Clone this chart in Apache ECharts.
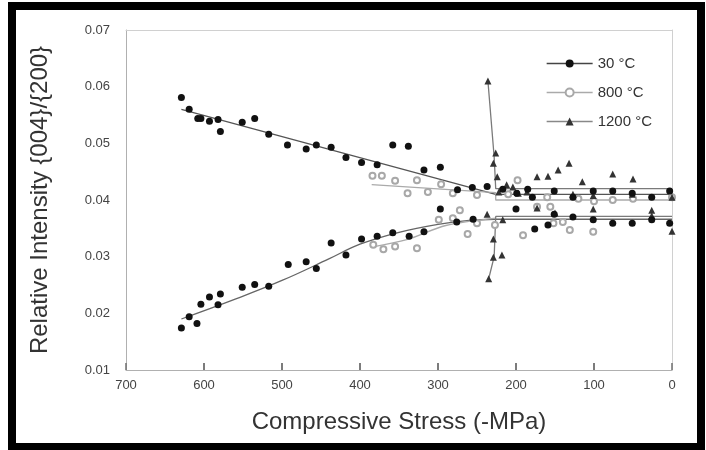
<!DOCTYPE html>
<html>
<head>
<meta charset="utf-8">
<script src="https://cdn.jsdelivr.net/npm/echarts@6/dist/echarts.min.js"></script>
<style>html,body{margin:0;padding:0;background:#fff}#c{width:706px;height:450px}</style>
</head>
<body>
<div id="c"></div>
<script>
// ---- data (x = compressive stress in -MPa, y = relative intensity) ----
const seriesNames = ['30 °C', '800 °C', '1200 °C'];
const xTicks = [0, 100, 200, 300, 400, 500, 600, 700];
const yTicks = [0.01, 0.02, 0.03, 0.04, 0.05, 0.06, 0.07];

const pts30 = [
  [629,0.0581],[619,0.0560],[608,0.0544],[604,0.0544],[593,0.0539],[582,0.0542],[579,0.0521],
  [551,0.0537],[535,0.0544],[517,0.0516],[493,0.0497],[469,0.0490],[456,0.0497],[437,0.0493],
  [418,0.0475],[398,0.0466],[378,0.0462],[358,0.0497],[338,0.0495],[318,0.0453],[297,0.0458],
  [275,0.0418],[256,0.0422],[237,0.0424],[217,0.0419],[199,0.0412],[185,0.0419],[179,0.0405],
  [151,0.0416],[127,0.0405],[101,0.0416],[76,0.0416],[51,0.0412],[26,0.0405],[3,0.0416],
  [629,0.0174],[619,0.0194],[609,0.0182],[604,0.0216],[593,0.0229],[582,0.0215],[579,0.0234],
  [551,0.0246],[535,0.0251],[517,0.0248],[492,0.0286],[469,0.0291],[456,0.0279],[437,0.0324],
  [418,0.0303],[398,0.0331],[378,0.0336],[358,0.0342],[337,0.0336],[318,0.0344],[297,0.0384],
  [276,0.0361],[255,0.0366],[200,0.0384],[176,0.0349],[159,0.0356],[151,0.0375],[127,0.0370],
  [101,0.0365],[76,0.0359],[51,0.0359],[26,0.0365],[3,0.0359]
];
const pts800 = [
  [384,0.0443],[372,0.0443],[355,0.0434],[339,0.0412],[327,0.0435],[313,0.0414],[296,0.0428],
  [281,0.0412],[250,0.0409],[210,0.0410],[198,0.0435],[173,0.0388],[156,0.0388],[160,0.0405],
  [120,0.0402],[100,0.0398],[76,0.0400],[50,0.0402],[0,0.0405],
  [383,0.0321],[370,0.0313],[355,0.0318],[327,0.0315],[299,0.0365],[281,0.0368],[272,0.0382],
  [262,0.0340],[250,0.0359],[227,0.0356],[191,0.0338],[152,0.0359],[140,0.0361],[131,0.0347],
  [101,0.0344]
];
const pts1200 = [
  [236,0.0610],[226,0.0483],[229,0.0465],[224,0.0441],[222,0.0414],[212,0.0427],[204,0.0423],
  [197,0.0412],[186,0.0414],[173,0.0441],[159,0.0442],[146,0.0453],[132,0.0465],[115,0.0432],
  [76,0.0446],[50,0.0437],[127,0.0410],[101,0.0408],[51,0.0410],[0,0.0405],
  [237,0.0375],[217,0.0365],[229,0.0331],[229,0.0299],[218,0.0303],[235,0.0261],[173,0.0386],
  [150,0.0377],[101,0.0384],[26,0.0382],[26,0.0372],[0,0.0345]
];
// fitted trend lines
const fit30Upper = [[629,0.0560],[226,0.0410],[0,0.0410]];
const fit30Lower = [[629,0.0190],[560,0.0225],[500,0.0258],[440,0.0296],[400,0.0322],[350,0.0343],[300,0.0357],[260,0.0364],[226,0.0366]];
const fit30Flat = [[226,0.0366],[0,0.0366]];
const fit800Upper = [[385,0.0427],[226,0.0413],[226,0.0400],[0,0.0400]];
const fit800Lower = [[385,0.0317],[340,0.0330],[290,0.0355],[226,0.0368]];
const fit1200Upper = [[236,0.0610],[228,0.0476],[226,0.0420],[0,0.0420]];
const fit1200Lower = [[235,0.0261],[228,0.0300],[226,0.0371],[0,0.0371]];

const FONT = '"Liberation Sans", Arial, sans-serif';
const chart = echarts.init(document.getElementById('c'), null, {renderer: 'canvas'});

function fitLine(data, color, smooth) {
  return {type: 'line', data: data, symbol: 'none', silent: true, z: 1, smooth: smooth || false,
    lineStyle: {color: color, width: 1.3}, animation: false};
}

// inward x-axis tick marks, positioned through the axes' own scales
const tickLen = 0.06 / 340 * 7;
const tickLine = fitLine(fit30Flat, '#666');
tickLine.markLine = {
  silent: true, animation: false, symbol: ['none', 'none'],
  label: {show: false},
  lineStyle: {color: '#777', width: 1.6, type: 'solid'},
  data: xTicks.filter(t => t > 0 && t < 700).map(t => [
    {coord: [t, yTicks[0]]},
    {coord: [t, yTicks[0] + tickLen]}
  ])
};

chart.setOption({
  animation: false,
  backgroundColor: '#fff',
  textStyle: {fontFamily: FONT},
  grid: {left: 126, right: 34, top: 30, bottom: 80},
  legend: {
    data: seriesNames,
    orient: 'vertical', left: 541, top: 51,
    itemWidth: 46, itemHeight: 10, itemGap: 14,
    textStyle: {fontSize: 15, color: '#333', fontFamily: FONT},
    lineStyle: {opacity: 1, width: 1.3}
  },
  xAxis: [{
    type: 'value', inverse: true, min: 0, max: 700, interval: 100,
    name: 'Compressive Stress (-MPa)', nameLocation: 'middle', nameGap: 40,
    nameTextStyle: {fontSize: 24, color: '#333', fontFamily: FONT},
    axisLine: {show: true, onZero: false, lineStyle: {color: '#b0b0b0'}},
    axisTick: {show: true, inside: true, length: 7, lineStyle: {color: '#777', width: 1.6}},
    axisLabel: {fontSize: 13, color: '#444', margin: 9},
    splitLine: {show: false}
  }, {
    type: 'value', position: 'top', inverse: true, min: 0, max: 700, interval: 100,
    axisLine: {show: true, onZero: false, lineStyle: {color: '#d0d0d0'}},
    axisTick: {show: false}, axisLabel: {show: false}, splitLine: {show: false}
  }],
  yAxis: [{
    type: 'value', min: 0.01, max: 0.07, interval: 0.01,
    name: 'Relative Intensity {004}/{200}', nameLocation: 'middle', nameGap: 74,
    nameTextStyle: {fontSize: 24, color: '#333', fontFamily: FONT},
    axisLine: {show: true, onZero: false, lineStyle: {color: '#b0b0b0'}},
    axisTick: {show: false},
    axisLabel: {fontSize: 13, color: '#444', margin: 16,
      formatter: v => yTicks.some(t => Math.abs(t - v) < 1e-9) ? v.toFixed(2) : ''},
    splitLine: {show: false}
  }, {
    type: 'value', position: 'right', min: 0.01, max: 0.07, interval: 0.01,
    axisLine: {show: true, onZero: false, lineStyle: {color: '#d0d0d0'}},
    axisTick: {show: false}, axisLabel: {show: false}, splitLine: {show: false}
  }],
  series: [
    fitLine(fit30Upper, '#555'),
    fitLine(fit30Lower, '#666', 0.4),
    tickLine,
    fitLine(fit800Upper, '#aaa'),
    fitLine(fit800Lower, '#aaa', 0.3),
    fitLine(fit1200Upper, '#7a7a7a'),
    fitLine(fit1200Lower, '#7a7a7a'),
    {name: seriesNames[0], type: 'line', data: pts30, symbol: 'circle', symbolSize: 7, z: 5,
      itemStyle: {color: '#111'}, lineStyle: {color: '#444', opacity: 0}},
    {name: seriesNames[1], type: 'line', data: pts800, symbol: 'emptyCircle', symbolSize: 6, z: 4,
      itemStyle: {color: '#a8a8a8', borderWidth: 1}, lineStyle: {color: '#aaa', opacity: 0}},
    {name: seriesNames[2], type: 'line', data: pts1200, symbol: 'triangle', symbolSize: 7, z: 4,
      itemStyle: {color: '#333'}, lineStyle: {color: '#888', opacity: 0}}
  ],
  graphic: [{
    type: 'rect', z: 100, silent: true,
    shape: {x: 12, y: 6, width: 689, height: 441},
    style: {fill: 'none', stroke: '#000', lineWidth: 8}
  }]
});
</script>
</body>
</html>
